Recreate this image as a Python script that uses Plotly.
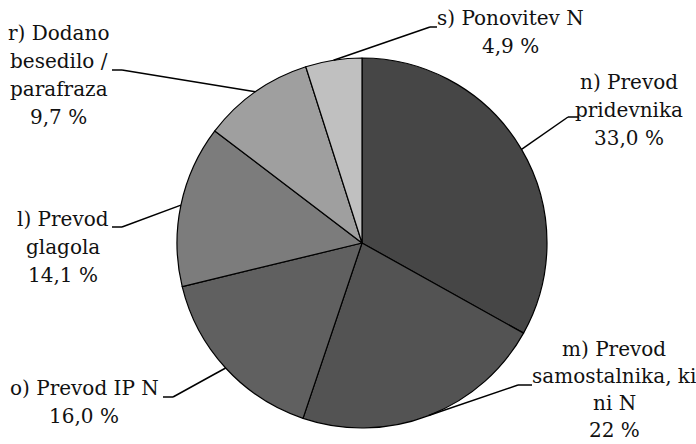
import math
import plotly.graph_objects as go

# ---- data ----
categories = ["n) Prevod pridevnika", "m) Prevod samostalnika, ki ni N", "o) Prevod IP N",
              "l) Prevod glagola", "r) Dodano besedilo / parafraza", "s) Ponovitev N"]
values = [33.0, 22, 16.0, 14.1, 9.7, 4.9]
value_labels = ["33,0 %", "22 %", "16,0 %", "14,1 %", "9,7 %", "4,9 %"]
label_lines = [
    ["n) Prevod", "pridevnika"],
    ["m) Prevod", "samostalnika, ki", "ni N"],
    ["o) Prevod IP N"],
    ["l) Prevod", "glagola"],
    ["r) Dodano", "besedilo /", "parafraza"],
    ["s) Ponovitev N"],
]
colors = ["#464646", "#535353", "#606060", "#7c7c7c", "#9f9f9f", "#c0c0c0"]

# ---- layout (pixels) ----
W, H = 696, 444
CX, CY, R = 362, 243, 185
FONT = dict(family="DejaVu Serif", size=20, color="#111111")
# label block: (center x, first line center y, line height, elbow x, elbow y, end x)
label_pos = [
    (629, 82, 28, 568, 117, 579),
    (614, 349, 27, 518, 385, 532),
    (84, 388, 28, 173, 397, 163),
    (63, 219, 28, 122, 227, 112),
    (59, 33, 28, 122, 70, 112),
    (510, 18, 28, 430, 27, 437),
]

def px(x):
    return x / W

def py(y):
    return 1 - y / H

fig = go.Figure(go.Pie(
    labels=categories, values=values, sort=False, direction="clockwise", rotation=0,
    textinfo="none", hoverinfo="label+value",
    marker=dict(colors=colors, line=dict(color="#000000", width=1.2)),
    domain=dict(x=[px(CX - R), px(CX + R)], y=[py(CY + R), py(CY - R)]),
    showlegend=False,
))

total = sum(values)
cum = 0.0
annotations = []
shapes = []
for i, v in enumerate(values):
    mid = cum + v / 2
    cum += v
    ang = math.radians(90 - 360 * mid / total)
    tx = CX + R * math.cos(ang)
    ty = CY - R * math.sin(ang)
    lx, ly, lh, ex, ey, endx = label_pos[i]
    lines = label_lines[i] + [value_labels[i]]
    for k, t in enumerate(lines):
        annotations.append(dict(text=t, x=px(lx), y=py(ly + k * lh), xref="paper", yref="paper",
                                xanchor="center", yanchor="middle", showarrow=False, font=FONT))
    shapes.append(dict(type="line", xref="paper", yref="paper", x0=px(tx), y0=py(ty), x1=px(ex), y1=py(ey),
                       line=dict(color="#000000", width=1.5)))
    shapes.append(dict(type="line", xref="paper", yref="paper", x0=px(ex), y0=py(ey), x1=px(endx), y1=py(ey),
                       line=dict(color="#000000", width=1.5)))

fig.update_layout(
    width=W, height=H, margin=dict(l=0, r=0, t=0, b=0),
    paper_bgcolor="white", plot_bgcolor="white",
    annotations=annotations, shapes=shapes,
)
fig.write_html("out.html", config={"displayModeBar": False},
               post_script="document.body.style.margin='0';document.body.style.padding='0';")
